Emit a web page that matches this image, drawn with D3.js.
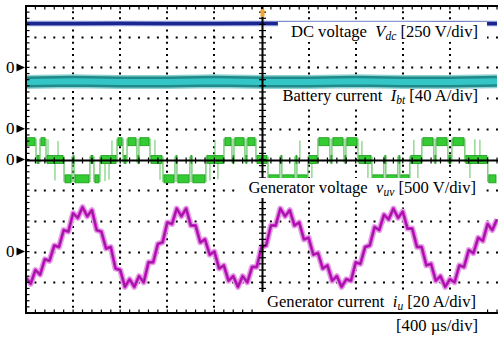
<!DOCTYPE html>
<html>
<head>
<meta charset="utf-8">
<script src="https://cdn.jsdelivr.net/npm/d3@7"></script>
<style>
  body { margin: 0; background: #fff; }
  svg { display: block; }
  text { font-family: "Liberation Serif", "Times New Roman", serif; white-space: pre; }
</style>
</head>
<body>
<div id="scope"></div>
<script>
// ---- data (400 us/div, 10 div) ----
const channelNames = ["DC voltage", "Battery current", "Generator voltage", "Generator current"];
const channelSymbols = ["V", "I", "v", "i"];
const channelSubs = ["dc", "bt", "uv", "u"];
const channelPerDiv = [250, 40, 500, 20];
const channelUnits = ["V", "A", "V", "A"];
const channelZeroDiv = [3, 1, 0, -3];   // zero marker position, in div from screen centre

// DC link voltage [V] and battery current [A], sampled every 400 us
const slowTime = [0, 400, 800, 1200, 1600, 2000, 2400, 2800, 3200, 3600, 4000];
const dcVoltage = [357, 357, 358, 357, 357, 358, 357, 357, 357, 358, 357];
const batCurrent = [61, 62, 61, 61, 62, 61, 61, 62, 61, 61, 62];

// generator line voltage: switching instants [us] and level held in between [V]
const voltSwitch = [0, 85, 119, 170, 323, 391, 408, 543, 577, 628, 773, 824, 858, 942, 959, 1053, 1163, 1265,
  1282, 1392, 1409, 1528, 1681, 1749, 1766, 1859, 1876, 1953, 2055, 2156, 2173, 2284, 2301, 2394, 2479, 2581,
  2598, 2700, 2717, 2819, 2938, 3039, 3056, 3158, 3175, 3260, 3362, 3464, 3481, 3583, 3617, 3727, 3922, 4000];
const voltLevel = [290, 0, 290, 0, -315, 0, -315, 0, -315, 0, 290, 0, 290, 0, 290, 0, -315, 0, -315, 0,
  -315, 0, 290, 0, 290, 0, 290, 0, -315, 0, -315, 0, -315, 0, 290, 0, 290, 0, 290, 0,
  -315, 0, -315, 0, -315, 0, 290, 0, 290, 0, 290, 0, -315];
// short glitches seen on the voltage trace
const spikeTime = [187, 246, 272, 671, 705, 730, 1095, 1138, 1562, 1605, 1630, 2004, 2326, 2428, 2853, 2904,
  3294, 3328, 3770, 3812, 3855];
const spikeVolt = [330, -340, 300, -350, -330, 310, 320, -330, -340, 320, -320, 330, 310, -330, 300, -340,
  320, -330, -350, 330, 320];

// generator phase current [A], one sample every 40 us
const curTime = d3.range(0, 4001, 40);
const genCurrent = [-17, -21, -12, -15, -5, -6, 4, 3, 14, 13,
  25, 22, 29, 23, 27, 14, 13, 2, 3, -11,
  -12, -23, -18, -23, -16, -20, -7, -7, 5, 6,
  19, 18, 28, 23, 28, 17, 17, 6, 8, -2,
  0, -11, -9, -19, -16, -23, -16, -20, -10, -10,
  3, 4, 17, 17, 28, 23, 27, 17, 19, 8,
  9, -2, -1, -11, -9, -19, -16, -23, -18, -19,
  -7, -8, 3, 4, 16, 14, 24, 21, 28, 22,
  26, 15, 15, 3, 3, -9, -8, -19, -16, -23,
  -18, -20, -9, -10, 1, -1, 9, 7, 18, 14, 21];

// ---- layout ----
const W = 498, H = 340;
const plotL = 26, plotR = 497, plotT = 6, plotB = 313;

const x = d3.scaleLinear().domain([0, 4000]).range([plotL, plotR]);
const y = d3.scaleLinear().domain([-5, 5]).range([plotB, plotT]);   // in divisions
const xDiv = x(400) - x(0), yDiv = y(0) - y(1);

function chY(ch, v) { return y(channelZeroDiv[ch] + v / channelPerDiv[ch]); }

const svg = d3.select("#scope").append("svg")
  .attr("width", W).attr("height", H);

svg.append("defs").append("clipPath").attr("id", "plot")
  .append("rect").attr("x", plotL).attr("y", plotT)
  .attr("width", plotR - plotL + 1).attr("height", plotB - plotT);

// dotted graticule
const gridG = svg.append("g");
gridG.selectAll("line.hdot").data(d3.range(-4, 5).filter(d => d !== 0)).join("line")
  .attr("x1", plotL - 1).attr("x2", W)
  .attr("y1", d => Math.round(y(d)) + 0.5).attr("y2", d => Math.round(y(d)) + 0.5)
  .attr("stroke", "#000").attr("stroke-width", 2)
  .attr("stroke-dasharray", "2," + (xDiv / 5 - 2));
gridG.selectAll("line.vdot").data(d3.range(400, 4000, 400).filter(d => d !== 2000)).join("line")
  .attr("x1", d => Math.round(x(d))).attr("x2", d => Math.round(x(d)))
  .attr("y1", plotT - 1).attr("y2", plotB)
  .attr("stroke", "#000").attr("stroke-width", 2)
  .attr("stroke-dasharray", "2," + (yDiv / 5 - 2));

const traces = svg.append("g").attr("clip-path", "url(#plot)");

// DC voltage
const dcLine = d3.line().x((d, i) => x(slowTime[i])).y(d => chY(0, d));
traces.append("path").attr("d", dcLine(dcVoltage))
  .attr("fill", "none").attr("stroke", "#8d9ad6").attr("stroke-width", 5.5);
traces.append("path").attr("d", dcLine(dcVoltage))
  .attr("fill", "none").attr("stroke", "#1b2690").attr("stroke-width", 3.2);

// battery current
const batLine = d3.line().x((d, i) => x(slowTime[i])).y(d => chY(1, d));
traces.append("path").attr("d", batLine(batCurrent))
  .attr("fill", "none").attr("stroke", "#8fd0d0").attr("stroke-width", 14);
traces.append("path").attr("d", batLine(batCurrent))
  .attr("fill", "none").attr("stroke", "#1f8a8a").attr("stroke-width", 11);
traces.append("path").attr("d", batLine(batCurrent))
  .attr("fill", "none").attr("stroke", "#34c6c6").attr("stroke-width", 6);

// generator voltage
const segs = voltLevel.map((v, i) => ({ t0: voltSwitch[i], t1: voltSwitch[i + 1], v: v, prev: i ? voltLevel[i - 1] : v }));
const vg = traces.append("g");
vg.selectAll("line.sp").data(spikeTime).join("line")
  .attr("x1", d => x(d)).attr("x2", d => x(d))
  .attr("y1", chY(2, 0)).attr("y2", (d, i) => chY(2, spikeVolt[i]))
  .attr("stroke", "#7bcf7b").attr("stroke-width", 1.2);
vg.selectAll("line.tr").data(segs.slice(1)).join("line")
  .attr("x1", d => x(d.t0)).attr("x2", d => x(d.t0))
  .attr("y1", d => chY(2, Math.max(d.v, d.prev) + 50))
  .attr("y2", d => chY(2, Math.min(d.v, d.prev) - 50))
  .attr("stroke", "#5fc25f").attr("stroke-width", 1.2);
vg.selectAll("rect").data(segs).join("rect")
  .attr("x", d => x(d.t0) + 1)
  .attr("width", d => Math.max(1, x(d.t1) - x(d.t0) - 2))
  .attr("y", d => chY(2, d.v) - 4).attr("height", 8)
  .attr("fill", "#33cc33").attr("stroke", "#1c9a1c").attr("stroke-width", 0.8);

// generator current
const curLine = d3.line().x((d, i) => x(curTime[i])).y(d => chY(3, d));
traces.append("path").attr("d", curLine(genCurrent))
  .attr("fill", "none").attr("stroke", "#e4a3e4").attr("stroke-width", 6).attr("stroke-linejoin", "round");
traces.append("path").attr("d", curLine(genCurrent))
  .attr("fill", "none").attr("stroke", "#cc1acc").attr("stroke-width", 3).attr("stroke-linejoin", "round");
traces.append("path").attr("d", curLine(genCurrent))
  .attr("fill", "none").attr("stroke", "#7d1a7d").attr("stroke-width", 0.9).attr("stroke-linejoin", "round");

// frame, centre cross and minor ticks
const frame = svg.append("g").attr("stroke", "#000");
frame.append("line").attr("x1", plotL).attr("x2", W).attr("y1", plotT).attr("y2", plotT).attr("stroke-width", 2);
frame.append("line").attr("x1", plotL).attr("x2", W).attr("y1", plotB).attr("y2", plotB).attr("stroke-width", 2);
frame.append("line").attr("x1", plotL).attr("x2", plotL).attr("y1", plotT - 1).attr("y2", plotB + 1).attr("stroke-width", 2);
const cx = Math.round(x(2000)) + 0.5, cy = Math.round(y(0)) + 0.5;
frame.append("line").attr("x1", plotL).attr("x2", W).attr("y1", cy).attr("y2", cy).attr("stroke-width", 2);
frame.append("line").attr("x1", cx).attr("x2", cx).attr("y1", plotT).attr("y2", plotB).attr("stroke-width", 2);

const xMinor = d3.range(0, 4001, 80), yMinor = d3.range(-5, 5.01, 0.2);
frame.selectAll("line.tt").data(xMinor).join("line")
  .attr("x1", d => x(d)).attr("x2", d => x(d)).attr("y1", plotT).attr("y2", plotT + 3.5).attr("stroke-width", 1.2);
frame.selectAll("line.tb").data(xMinor).join("line")
  .attr("x1", d => x(d)).attr("x2", d => x(d)).attr("y1", plotB - 3.5).attr("y2", plotB).attr("stroke-width", 1.2);
frame.selectAll("line.tc").data(xMinor).join("line")
  .attr("x1", d => x(d)).attr("x2", d => x(d)).attr("y1", cy - 3).attr("y2", cy + 3).attr("stroke-width", 1.2);
frame.selectAll("line.tl").data(yMinor).join("line")
  .attr("x1", plotL).attr("x2", plotL + 3.5).attr("y1", d => y(d)).attr("y2", d => y(d)).attr("stroke-width", 1.2);
frame.selectAll("line.tv").data(yMinor).join("line")
  .attr("x1", cx - 3.5).attr("x2", cx + 3.5).attr("y1", d => y(d)).attr("y2", d => y(d)).attr("stroke-width", 1.2);

// trigger position marker
svg.append("rect").attr("x", cx - 2).attr("y", plotT + 3).attr("width", 4).attr("height", 8).attr("rx", 1.5)
  .attr("fill", "#f2a52e");

// zero markers
const zm = svg.append("g");
channelZeroDiv.forEach(z => {
  const yy = y(z);
  zm.append("text").attr("x", 6).attr("y", yy + 5.5).attr("font-size", 17).text("0");
  zm.append("path").attr("d", `M16.5,${yy - 4}L25,${yy}L16.5,${yy + 4}Z`).attr("fill", "#000");
});

// channel labels (white patch behind each one; the battery patch starts below its trace)
const labelBase = [37, 101, 193, 307];
const labelEnd = [478, 478, 476, 476];
const boxTopInset = [0, 5, 0, 0];
channelNames.forEach((name, i) => {
  const g = svg.append("g");
  const t = g.append("text").attr("x", labelEnd[i]).attr("y", labelBase[i])
    .attr("text-anchor", "end").attr("font-size", 16.6);
  t.append("tspan").text(name + "  ");
  t.append("tspan").attr("font-style", "italic").text(channelSymbols[i]);
  t.append("tspan").attr("font-style", "italic").attr("font-size", 11.5).attr("dy", 3).text(channelSubs[i]);
  t.append("tspan").attr("dy", -3).text(" [" + channelPerDiv[i] + " " + channelUnits[i] + "/div]");
  const b = t.node().getBBox();
  g.insert("rect", "text").attr("x", b.x - 13).attr("y", b.y + boxTopInset[i])
    .attr("width", b.width + 22).attr("height", b.height - boxTopInset[i])
    .attr("fill", "#fff");
});

svg.append("text").attr("x", 478).attr("y", 331).attr("text-anchor", "end").attr("font-size", 16.6)
  .text("[400 \u00b5s/div]");
</script>
</body>
</html>
